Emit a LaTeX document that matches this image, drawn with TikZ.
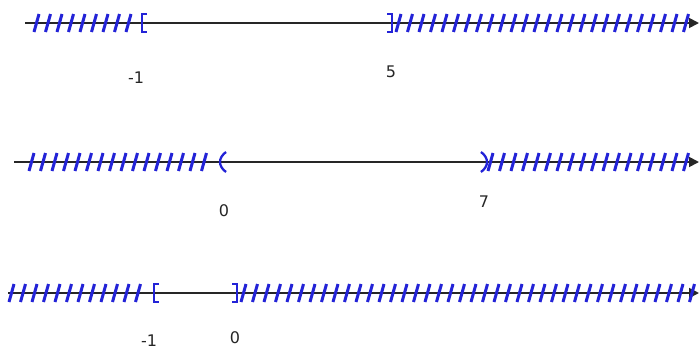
\documentclass[tikz,border=0pt]{standalone}
\usepackage{fontspec}
\setmainfont{DejaVu Sans}
\usetikzlibrary{arrows.meta}
\definecolor{hb}{RGB}{35,35,215}
\tikzset{
  axis/.style={line width=1.8pt, black!85, -{Triangle[length=10pt,width=10pt]}},
  hatch/.style={hb, line width=3pt},
  brk/.style={hb, line width=2.3pt},
  lbl/.style={font=\fontsize{16}{18}\selectfont, text=black!85, inner sep=0pt}
}
\begin{document}
\begin{tikzpicture}[x=1pt,y=-1pt]
\useasboundingbox (0,0) rectangle (699,351);
% ---------- line 1 ----------
\coordinate (a1) at (25,23);
\coordinate (b1) at (699,23);
\draw[axis] (a1) -- (b1);
\foreach \x in {34,45.5,...,128} {\draw[hatch] (\x,32) -- (\x+5,14);}
\draw[brk] (147,14) -- (142,14) -- (142,32) -- (147,32);
\draw[brk] (387,14) -- (392,14) -- (392,32) -- (387,32);
\foreach \x in {396,407.5,...,690} {\draw[hatch] (\x,32) -- (\x+5,14);}
\node[lbl] (l1a) at (136,78) {-1};
\node[lbl] (l1b) at (391,72) {5};
% ---------- line 2 ----------
\coordinate (a2) at (14,162);
\coordinate (b2) at (699,162);
\draw[axis] (a2) -- (b2);
\foreach \x in {29,40.5,...,212} {\draw[hatch] (\x,171) -- (\x+5,153);}
\draw[brk] (226,152) .. controls (218,158) and (218,166) .. (226,172);
\draw[brk] (481,152) .. controls (489,158) and (489,166) .. (481,172);
\foreach \x in {488,499.5,...,690} {\draw[hatch] (\x,171) -- (\x+5,153);}
\node[lbl] (l2a) at (224,211) {0};
\node[lbl] (l2b) at (484,202) {7};
% ---------- line 3 ----------
\coordinate (a3) at (8,293);
\coordinate (b3) at (699,293);
\draw[axis] (a3) -- (b3);
\foreach \x in {9,20.5,...,145} {\draw[hatch] (\x,302) -- (\x+5,284);}
\draw[brk] (159,284) -- (154,284) -- (154,302) -- (159,302);
\draw[brk] (232,284) -- (237,284) -- (237,302) -- (232,302);
\foreach \x in {241,252.5,...,690} {\draw[hatch] (\x,302) -- (\x+5,284);}
\node[lbl] (l3a) at (149,341) {-1};
\node[lbl] (l3b) at (235,338) {0};
\end{tikzpicture}
\end{document}
